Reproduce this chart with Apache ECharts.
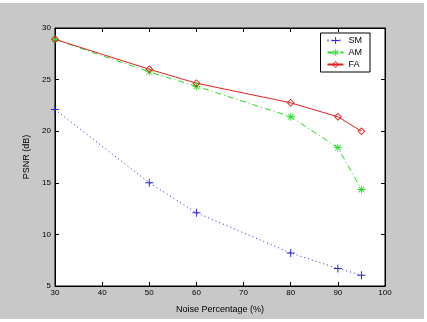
<!DOCTYPE html>
<html>
<head>
<meta charset="utf-8">
<script src="https://cdn.jsdelivr.net/npm/echarts@6/dist/echarts.min.js"></script>
<style>
  html, body { margin: 0; padding: 0; background: #fff; }
  #chart { position: absolute; left: 0; top: 3px; width: 424px; height: 316px; background: #c8c8c8; }
</style>
</head>
<body>
<div id="chart"></div>
<script>
// noise percentage on x
const noise = [30, 50, 60, 80, 90, 95];
// PSNR values
const smData = [22.1, 15.0, 12.1, 8.2, 6.7, 6.05];
const amData = [28.9, 25.75, 24.35, 21.4, 18.4, 14.35];
const faData = [28.9, 26.0, 24.65, 22.75, 21.4, 20.0];

const plusSym = 'path://M4.4,0h1.2v4.4h4.4v1.2h-4.4v4.4h-1.2v-4.4h-4.4v-1.2h4.4z';
const starSym = 'path://M4.5,0h1v10h-1z M0,4.5h10v1h-10z M1.1,1.8L1.8,1.1L8.9,8.2L8.2,8.9z M8.2,1.1L8.9,1.8L1.8,8.9L1.1,8.2z';
// hollow diamond as a filled ring
const diamondSym = 'path://M5,0L10,5L5,10L0,5z M5,1.6L1.6,5L5,8.4L8.4,5z';

function pairs(vals) {
    return noise.map(function (x, i) { return [x, vals[i]]; });
}

let chart = echarts.init(document.getElementById('chart'));
let font = 'Liberation Sans, Arial, sans-serif';
let option = {
    animation: false,
    backgroundColor: '#c8c8c8',
    textStyle: { fontFamily: font },
    grid: {
        left: 55, right: 39, top: 25, bottom: 30,
        show: true, backgroundColor: '#fff', borderColor: '#000', borderWidth: 1
    },
    legend: {
        orient: 'vertical',
        right: 54, top: 30,
        backgroundColor: '#fff',
        borderColor: '#000', borderWidth: 1,
        padding: [3, 8, 3, 6],
        itemGap: 3,
        itemWidth: 16, itemHeight: 9,
        textStyle: { fontSize: 9, color: '#000', fontFamily: font },
        data: ['SM', 'AM', 'FA']
    },
    xAxis: [{
        type: 'value', min: 30, max: 100, interval: 10,
        name: 'Noise Percentage (%)', nameLocation: 'middle', nameGap: 19,
        nameTextStyle: { fontSize: 9, color: '#000' },
        axisLine: { lineStyle: { color: '#000' } },
        axisTick: { inside: true, length: 4, lineStyle: { color: '#000' } },
        axisLabel: { fontSize: 8, color: '#000', margin: 3 },
        splitLine: { show: false }
    }, {
        type: 'value', min: 30, max: 100, interval: 10, position: 'top',
        axisLine: { lineStyle: { color: '#000' } },
        axisTick: { inside: true, length: 4, lineStyle: { color: '#000' } },
        axisLabel: { show: false },
        splitLine: { show: false }
    }],
    yAxis: [{
        type: 'value', min: 5, max: 30, interval: 5,
        name: 'PSNR (dB)', nameLocation: 'middle', nameGap: 24,
        nameTextStyle: { fontSize: 9, color: '#000' },
        axisLine: { show: true, lineStyle: { color: '#000' } },
        axisTick: { show: true, inside: true, length: 4, lineStyle: { color: '#000' } },
        axisLabel: { fontSize: 8, color: '#000', margin: 4 },
        splitLine: { show: false }
    }, {
        type: 'value', min: 5, max: 30, interval: 5, position: 'right',
        axisLine: { show: true, lineStyle: { color: '#000' } },
        axisTick: { show: true, inside: true, length: 4, lineStyle: { color: '#000' } },
        axisLabel: { show: false },
        splitLine: { show: false }
    }],
    series: [
        {
            name: 'SM', type: 'line', data: pairs(smData),
            symbol: plusSym, symbolSize: 8,
            itemStyle: { color: '#2424d8' },
            lineStyle: { color: '#2424d8', width: 1, type: [1, 3] }
        },
        {
            name: 'AM', type: 'line', data: pairs(amData),
            symbol: starSym, symbolSize: 8,
            itemStyle: { color: '#22dd22' },
            lineStyle: { color: '#22dd22', width: 1, type: [6, 3, 1, 3] }
        },
        {
            name: 'FA', type: 'line', data: pairs(faData),
            symbol: diamondSym, symbolSize: 8,
            itemStyle: { color: '#e02020' },
            lineStyle: { color: '#e02020', width: 1 }
        }
    ]
};
chart.setOption(option);
</script>
</body>
</html>
